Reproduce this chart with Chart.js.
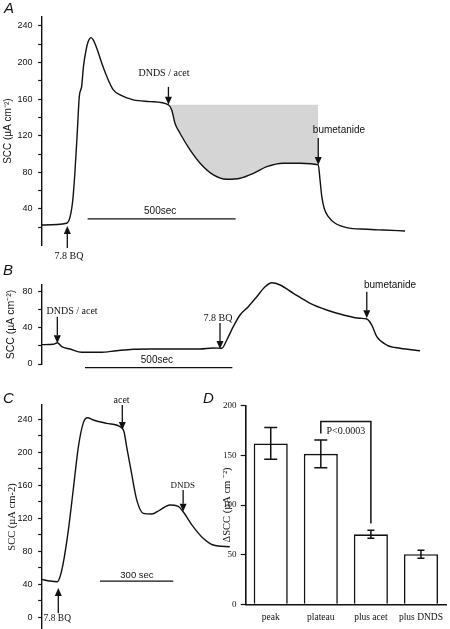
<!DOCTYPE html>
<html>
<head>
<meta charset="utf-8">
<script src="https://cdn.jsdelivr.net/npm/chart.js@4.4.1/dist/chart.umd.min.js"></script>
<style>
  html, body { margin: 0; padding: 0; background: #fff; }
  #fig { position: relative; width: 450px; height: 629px; overflow: hidden; }
  #fig canvas { position: absolute; left: 0; top: 0; }
  .panel { position: absolute; font: italic 15px 'Liberation Sans', Arial, sans-serif; line-height: 15px; color: #111; }
</style>
</head>
<body>
<div id="fig">
  <canvas id="chartA" width="450" height="629"></canvas>
  <canvas id="chartB" width="450" height="629"></canvas>
  <canvas id="chartC" width="450" height="629"></canvas>
  <canvas id="chartD" width="450" height="629"></canvas>
  <div class="panel" style="left:4px;top:0px">A</div>
  <div class="panel" style="left:3px;top:262px">B</div>
  <div class="panel" style="left:3px;top:390px">C</div>
  <div class="panel" style="left:203px;top:390px">D</div>
</div>
<script>
// start::data
// A : time (s) / short-circuit current (uA cm-2)
const timeA = [0, 84, 96, 105, 112, 120, 127, 135, 141, 150, 157, 167, 174, 186, 203, 220, 242, 265, 309, 366,
  428, 439, 450, 467, 501, 535, 580, 625, 670, 715, 760, 816, 873, 934, 940, 946, 954, 968, 991, 1030, 1098, 1154, 1227];
const sccA = [22.5, 24.4, 31.6, 49.8, 79, 122.7, 163, 174, 195.5, 213.8, 222.8, 227.2, 224.7, 215.6, 199.2, 184.6, 170, 164.6, 159.1, 157.3,
  153.7, 148.2, 133.7, 122.7, 104.5, 90, 77.2, 72.5, 73.6, 79, 86.2, 90, 90, 88.1, 71.7, 53.4, 40.8, 31.6, 24.4, 19.6, 17.8, 17, 16];
const plateauA = 153.7;          // level before DNDS / acet (shaded area)
const shadeFromA = 428, shadeToA = 934;

// B
const timeB = [0, 39, 53, 68, 96, 136, 198, 255, 311, 368, 537, 582, 611, 628, 650, 673, 701, 730, 758, 781,
  809, 854, 911, 967, 1024, 1080, 1103, 1120, 1137, 1171, 1216, 1284];
const sccB = [21.2, 21.6, 23.3, 19, 16.4, 12.8, 12.8, 14.6, 16.1, 16.4, 16.4, 17.5, 17.2, 26.3, 40.9, 53.7, 62.8, 73.8, 84.7, 89.1,
  86.6, 77.5, 66.5, 59.2, 53.7, 50.1, 49.3, 42.7, 29.9, 20.8, 17.2, 14.6];

// C
const timeC = [0, 34, 64, 75, 88, 109, 129, 150, 170, 187, 211, 266, 327, 337, 348, 368, 389, 416, 450, 484,
  525, 557, 579, 620, 661, 702, 770];
const sccC = [45.7, 43.6, 42.8, 48.8, 65, 105, 154, 206, 235, 241.6, 238.8, 234.8, 229.5, 224.6, 206, 174, 142, 125.7, 124.8, 129.7,
  135.8, 134.5, 127.6, 109.5, 95.4, 87.3, 85.2];

// D : mean +/- sem of delta SCC
const categoriesD = ['peak', 'plateau', 'plus acet', 'plus DNDS'];
const meanD = [162, 151.5, 70.5, 50.5];
const semD = [16, 14, 4, 4];

// tick values
const ticksA = [20, 40, 60, 80, 100, 120, 140, 160, 180, 200, 220, 240];
const labelsA = [40, 80, 120, 160, 200, 240];
const ticksB = [0, 20, 40, 60, 80];
const labelsB = [0, 40, 80];
const ticksC = [0, 20, 40, 60, 80, 100, 120, 140, 160, 180, 200, 220, 240];
const labelsC = [0, 40, 80, 120, 160, 200, 240];
const ticksD = [0, 50, 100, 150, 200];
// end::data

const ink = '#111';
const SANS = "'Liberation Sans', Arial, sans-serif";
const SERIF = "'Liberation Serif', 'Times New Roman', serif";
const font = (size, fam) => size + 'px ' + fam;

function drawArrow(ctx, x, y0, y1) {
  const dir = Math.sign(y1 - y0), head = 8, half = 3.5;
  ctx.beginPath(); ctx.moveTo(x, y0); ctx.lineTo(x, y1 - dir * head); ctx.stroke();
  ctx.beginPath(); ctx.moveTo(x, y1); ctx.lineTo(x - half, y1 - dir * head); ctx.lineTo(x + half, y1 - dir * head);
  ctx.closePath(); ctx.fill();
}

// arrows, scale bars, labels, error bars - all placed through the chart scales
const overlay = {
  id: 'overlay',
  afterDatasetsDraw(chart, args, o) {
    const {ctx} = chart;
    const x = chart.scales.x, y = chart.scales.y;
    const px = v => x.getPixelForValue(v), py = v => y.getPixelForValue(v);
    ctx.save();
    ctx.strokeStyle = ink; ctx.fillStyle = ink; ctx.lineWidth = 1.3;
    (o.arrows || []).forEach(a => drawArrow(ctx, px(a.x), py(a.from), py(a.to)));
    (o.scaleBars || []).forEach(b => {
      ctx.beginPath(); ctx.moveTo(px(b.x0), py(b.y)); ctx.lineTo(px(b.x1), py(b.y)); ctx.stroke();
    });
    if (o.errors) {
      ctx.lineWidth = 1.5;
      o.errors.mean.forEach((m, i) => {
        const cx = px(i), hi = py(m + o.errors.sem[i]), lo = py(m - o.errors.sem[i]), w = o.errors.caps[i] / 2;
        ctx.beginPath();
        ctx.moveTo(cx, hi); ctx.lineTo(cx, lo);
        ctx.moveTo(cx - w, hi); ctx.lineTo(cx + w, hi);
        ctx.moveTo(cx - w, lo); ctx.lineTo(cx + w, lo);
        ctx.stroke();
      });
    }
    if (o.bracket) {
      const b = o.bracket;
      ctx.lineWidth = 1.5;
      ctx.beginPath();
      ctx.moveTo(px(b.from), py(b.leftEnd)); ctx.lineTo(px(b.from), py(b.top));
      ctx.lineTo(px(b.to), py(b.top)); ctx.lineTo(px(b.to), py(b.rightEnd));
      ctx.stroke();
    }
    ctx.textAlign = 'center'; ctx.textBaseline = 'middle';
    (o.texts || []).forEach(t => { ctx.font = t.font; ctx.fillText(t.text, px(t.x), py(t.y)); });
    ctx.restore();
  }
};

function yAxis(o) {
  return {
    min: o.min, max: o.max,
    afterBuildTicks: s => { s.ticks = o.ticks.map(v => ({value: v})); },
    afterFit: s => { s.width = o.width; s.paddingTop = 0; s.paddingBottom = 0; },
    border: {color: ink, width: 1.4},
    grid: {drawOnChartArea: false, tickLength: o.tickLength || 3.5, tickColor: ink, tickWidth: 1.2},
    ticks: {
      autoSkip: false, padding: o.pad, color: ink, font: {family: o.tickFamily, size: 9},
      callback: v => (o.labels.includes(v) ? v : '')
    },
    title: {display: true, text: o.title, color: ink, font: {family: o.titleFamily, size: o.titleSize},
      padding: {top: o.titlePad, bottom: 0}}
  };
}

function traceChart(id, o) {
  const pts = o.time.map((t, i) => ({x: t, y: o.scc[i]}));
  const datasets = [{data: pts, borderColor: ink, borderWidth: 1.4, pointRadius: 0,
    cubicInterpolationMode: 'monotone', clip: false}];
  if (o.shade) {
    datasets.push({
      data: pts.filter(p => p.x >= o.shade.from && p.x <= o.shade.to),
      borderWidth: 0, pointRadius: 0, cubicInterpolationMode: 'monotone',
      backgroundColor: '#d5d5d5', fill: {value: o.shade.level}
    });
  }
  return new Chart(document.getElementById(id), {
    type: 'line',
    data: {datasets: datasets},
    options: {
      responsive: false, animation: false, devicePixelRatio: 1,
      layout: {padding: o.padding},
      plugins: {legend: {display: false}, tooltip: {enabled: false}, overlay: o.overlay},
      scales: {
        x: {type: 'linear', min: 0, max: o.xMax, display: false},
        y: o.y
      }
    },
    plugins: [overlay]
  });
}

// start::A
traceChart('chartA', {
  time: timeA, scc: sccA, xMax: 1281,
  shade: {from: shadeFromA, to: shadeToA, level: plateauA},
  padding: {left: 0, top: 16.7, right: 29, bottom: 383.4},
  y: yAxis({min: 0, max: 250, ticks: ticksA, labels: labelsA, width: 41.7, pad: 5.6, tickFamily: SANS,
    title: 'SCC (µA cm⁻²)', titleFamily: SANS, titleSize: 10, titlePad: 2.4}),
  overlay: {
    arrows: [{x: 86.5, from: -2.6, to: 21.4}, {x: 428, from: 173.3, to: 153.7}, {x: 934, from: 117.6, to: 88.1}],
    scaleBars: [{x0: 155, x1: 655, y: 29.1}],
    texts: [
      {x: 92, y: -11.4, text: '7.8 BQ', font: font(10, SERIF)},
      {x: 413, y: 188.6, text: 'DNDS / acet', font: font(10, SERIF)},
      {x: 1004, y: 126.3, text: 'bumetanide', font: font(10, SANS)},
      {x: 400, y: 37.8, text: '500sec', font: font(10, SANS)}
    ]
  }
});
// end::A

// start::B
traceChart('chartB', {
  time: timeB, scc: sccB, xMax: 1287,
  padding: {left: 0, top: 285, right: 29, bottom: 265},
  y: yAxis({min: 0, max: 86.6, ticks: ticksB, labels: labelsB, width: 41.7, pad: 5.6, tickFamily: SANS,
    title: 'SCC (µA cm⁻²)', titleFamily: SANS, titleSize: 10.5, titlePad: 4.7}),
  overlay: {
    arrows: [{x: 53, from: 51.8, to: 22.7}, {x: 605, from: 44.9, to: 16.4}, {x: 1103, from: 79.2, to: 50.1}],
    scaleBars: [{x0: 147, x1: 647, y: -4.05}],
    texts: [
      {x: 103, y: 57.3, text: 'DNDS / acet', font: font(10, SERIF)},
      {x: 598, y: 50.4, text: '7.8 BQ', font: font(10, SERIF)},
      {x: 1182, y: 86.6, text: 'bumetanide', font: font(10, SANS)},
      {x: 391, y: 4.4, text: '500sec', font: font(10, SANS)}
    ]
  }
});
// end::B

// start::C
traceChart('chartC', {
  time: timeC, scc: sccC, xMax: 775,
  padding: {left: 0, top: 405, right: 219, bottom: 0},
  y: yAxis({min: -14.5, max: 257, ticks: ticksC, labels: labelsC, width: 41.7, pad: 5.6, tickFamily: SANS,
    title: 'SCC (µA cm-2)', titleFamily: SERIF, titleSize: 10.5, titlePad: 5.7}),
  overlay: {
    arrows: [{x: 330, from: 257, to: 226.7}, {x: 579, from: 153.9, to: 127.6}, {x: 68, from: 4.5, to: 35.2}],
    scaleBars: [{x0: 238.5, x1: 538.5, y: 43.6}],
    texts: [
      {x: 327, y: 263, text: 'acet', font: font(10, SERIF)},
      {x: 577, y: 158.8, text: 'DNDS', font: font(9, SERIF)},
      {x: 64, y: -1.2, text: '7.8 BQ', font: font(9.5, SERIF)},
      {x: 390, y: 50.9, text: '300 sec', font: font(9.5, SANS)}
    ]
  }
});
// end::C

// start::D
new Chart(document.getElementById('chartD'), {
  type: 'bar',
  data: {
    labels: categoriesD,
    datasets: [{data: meanD, backgroundColor: '#fff', borderColor: ink, borderWidth: 1.6,
      barPercentage: 0.68, categoryPercentage: 1}]
  },
  options: {
    responsive: false, animation: false, devicePixelRatio: 1,
    layout: {padding: {left: 221, top: 405.7, right: 4, bottom: 4.7}},
    plugins: {
      legend: {display: false}, tooltip: {enabled: false},
      overlay: {
        errors: {mean: meanD, sem: semD, caps: [13, 13, 7, 7]},
        bracket: {from: 1, to: 2, top: 184, leftEnd: 172, rightEnd: 81.3},
        texts: [{x: 1.5, y: 174, text: 'P<0.0003', font: font(10, SERIF)}]
      }
    },
    scales: {
      x: {
        afterFit: s => { s.height = 20; s.paddingLeft = 0; s.paddingRight = 0; },
        border: {color: ink, width: 1.6},
        grid: {display: false, drawTicks: false},
        ticks: {padding: 7, color: ink, maxRotation: 0, autoSkip: false, font: {family: SERIF, size: 9.5}}
      },
      y: Object.assign(yAxis({min: 0, max: 200, ticks: ticksD, labels: ticksD, width: 24.7, pad: 4.2, tickLength: 5,
        tickFamily: SERIF, title: 'ΔSCC (µA cm ⁻²)', titleFamily: SERIF, titleSize: 10.5, titlePad: 0}),
        {border: {color: ink, width: 1.6}})
    }
  },
  plugins: [overlay]
});
// end::D
</script>
</body>
</html>
